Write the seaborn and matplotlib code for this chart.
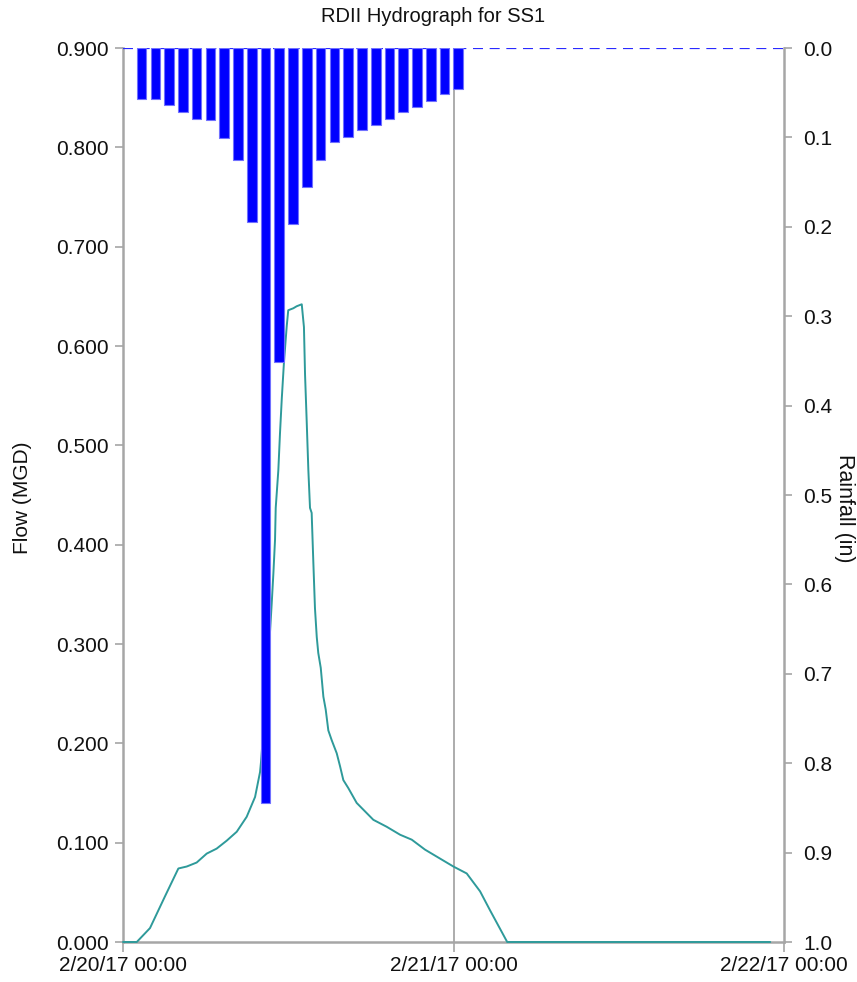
import matplotlib
matplotlib.use("Agg")
import matplotlib.pyplot as plt
import seaborn as sns
import numpy as np
import pandas as pd

# ---- data ----
flow_hours = [0, 1, 1.96, 3.05, 4.02, 4.63, 5.35, 6.08, 6.80, 7.53, 8.26, 8.98,
              9.59, 9.95, 10.02, 10.45, 10.80, 10.92, 11.04, 11.09, 11.28, 11.40,
              11.53, 11.69, 11.89, 12.00, 12.37, 12.61, 12.98, 13.14, 13.22, 13.34,
              13.46, 13.58, 13.70, 13.82, 13.94, 14.07, 14.18, 14.36, 14.55, 14.72,
              14.91, 15.16, 15.52, 15.76, 16.00, 16.36, 16.97, 18.18, 19.15, 20.12,
              20.97, 21.93, 23.02, 23.99, 24.96, 25.93, 26.65, 27.90, 47.0]
flow_mgd = [0.000, 0.000, 0.014, 0.046, 0.074, 0.076, 0.080, 0.089, 0.094, 0.102,
            0.111, 0.126, 0.146, 0.171, 0.181, 0.260, 0.341, 0.371, 0.405, 0.437,
            0.475, 0.512, 0.547, 0.584, 0.620, 0.636, 0.638, 0.640, 0.642, 0.619,
            0.571, 0.524, 0.475, 0.437, 0.432, 0.383, 0.336, 0.307, 0.291, 0.276,
            0.247, 0.234, 0.213, 0.203, 0.190, 0.177, 0.163, 0.155, 0.140, 0.123,
            0.116, 0.108, 0.103, 0.093, 0.084, 0.076, 0.069, 0.051, 0.032, 0.000,
            0.000]

rain_hours = list(range(1, 25))
rain_in = [0.057, 0.057, 0.064, 0.072, 0.079, 0.081, 0.101, 0.125, 0.195, 0.844,
           0.351, 0.197, 0.156, 0.125, 0.105, 0.099, 0.092, 0.086, 0.079, 0.072,
           0.066, 0.059, 0.052, 0.046]

x_ticks = [0, 24, 48]
x_ticklabels = ["2/20/17 00:00", "2/21/17 00:00", "2/22/17 00:00"]
flow_ticks = [i / 10 for i in range(10)]
rain_ticks = [i / 10 for i in range(11)]

title = "RDII Hydrograph for SS1"
ylabel_left = "Flow (MGD)"
ylabel_right = "Rainfall (in)"

# ---- style ----
sns.set_theme(style="white")
plt.rcParams["font.family"] = ["Liberation Sans", "DejaVu Sans"]

GRAY = "#A6A6A6"
TXT = "#111111"

fig = plt.figure(figsize=(8.57, 9.82), dpi=100)
ax = fig.add_axes([123 / 857, 1 - 942 / 982, (784 - 123) / 857, (942 - 48) / 982])

df = pd.DataFrame({"hour": flow_hours, "flow": flow_mgd})
sns.lineplot(data=df, x="hour", y="flow", ax=ax, color="#2E9A9A", lw=1.4,
             estimator=None, sort=False, zorder=4)
for ln in ax.get_lines():
    ln.set_clip_on(False)

ax.axvline(24, color=GRAY, lw=1.3, zorder=0)

ax.set_xlim(0, 48)
ax.set_ylim(0, 0.9)
ax.set_xticks(x_ticks)
ax.set_xticklabels(x_ticklabels)
ax.set_yticks(flow_ticks)
ax.set_yticklabels([f"{v:.3f}" for v in flow_ticks])
ax.set_xlabel("")
ax.set_ylabel("")

for s in ["left", "bottom"]:
    ax.spines[s].set_color(GRAY)
    ax.spines[s].set_linewidth(1.8)
ax.spines["top"].set_visible(False)
ax.spines["right"].set_visible(False)
ax.tick_params(axis="y", which="both", left=True, direction="out", length=6,
               width=1.2, color=GRAY, labelsize=15, labelcolor=TXT, pad=4)
ax.tick_params(axis="x", which="both", bottom=True, direction="out", length=7,
               width=1.2, color=GRAY, labelsize=15, labelcolor=TXT, pad=3)

ax2 = ax.twinx()
ax2.bar(rain_hours, rain_in, width=0.7, align="edge", color="#0000FF",
        edgecolor="#7070FF", linewidth=0.8, zorder=3)
ax2.axhline(0, color="#2A2AFF", lw=1.6, ls=(0, (4.5, 3)), zorder=2)
ax2.set_ylim(1.0, 0.0)
ax2.set_yticks(rain_ticks)
ax2.set_yticklabels([f"{v:.1f}" for v in rain_ticks])
ax2.set_ylabel("")
ax2.grid(False)
ax.grid(False)
for s in ["left", "top", "bottom"]:
    ax2.spines[s].set_visible(False)
ax2.spines["right"].set_color(GRAY)
ax2.spines["right"].set_linewidth(1.8)
ax2.tick_params(axis="y", which="both", right=True, direction="out", length=6,
                width=1.2, color=GRAY, labelsize=15, labelcolor=TXT, pad=8)

fig.text(433 / 857, 1 - 16 / 982, title, ha="center", va="center",
         fontsize=14.5, color=TXT)
fig.text(23 / 857, 1 - 498 / 982, ylabel_left, ha="center", va="center",
         rotation=90, fontsize=15, color=TXT)
fig.text(844 / 857, 1 - 508 / 982, ylabel_right, ha="center", va="center",
         rotation=270, fontsize=15.5, color=TXT)

fig.savefig("out.png", dpi=100, facecolor="white")
